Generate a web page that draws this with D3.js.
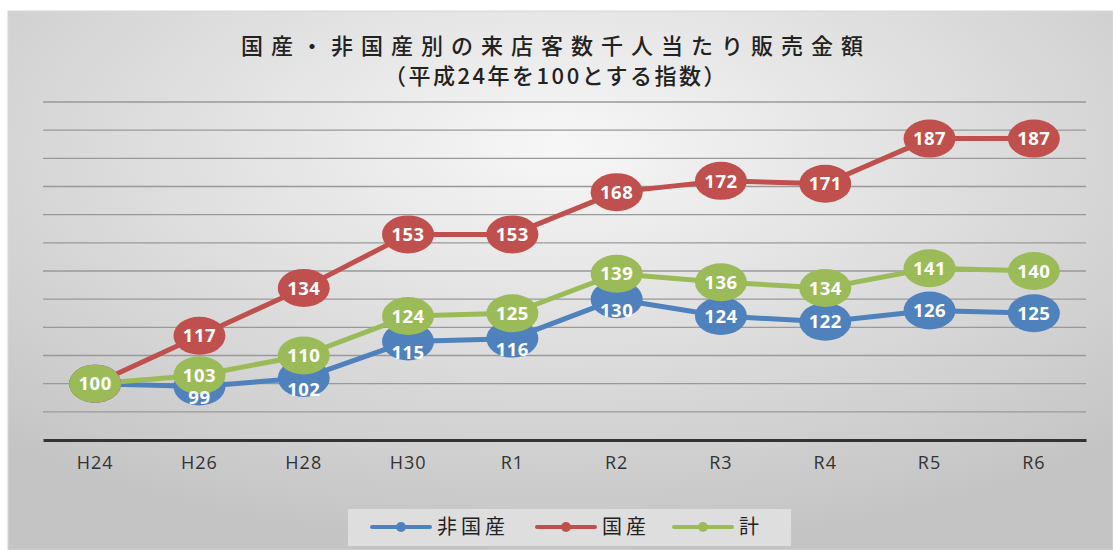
<!DOCTYPE html>
<html><head><meta charset="utf-8">
<script src="https://cdn.jsdelivr.net/npm/d3@7"></script>
<style>html,body{margin:0;padding:0;background:#fff;}svg{display:block;}</style>
</head><body>
<svg id="chart" width="1113" height="550"></svg>
<script>
const categories = ["H24","H26","H28","H30","R1","R2","R3","R4","R5","R6"];
const seriesNames = ["非国産","国産","計"];
const hikokusan = [100,99,102,115,116,130,124,122,126,125];
const kokusan = [100,117,134,153,153,168,172,171,187,187];
const kei = [100,103,110,124,125,139,136,134,141,140];
const yTicks = [80,90,100,110,120,130,140,150,160,170,180,190,200];
const titleLines = ["国産・非国産別の来店客数千人当たり販売金額","（平成24年を100とする指数）"];
const colors = ["#4F81BD","#C0504D","#9BBB59"];

const svg = d3.select("#chart");
const defs = svg.append("defs");
const grad = defs.append("radialGradient").attr("id","bg")
  .attr("cx","50%").attr("cy","25%").attr("r","75%").attr("fx","50%").attr("fy","25%");
grad.append("stop").attr("offset","0%").attr("stop-color","#f7f7f7");
grad.append("stop").attr("offset","100%").attr("stop-color","#c4c4c4");

svg.append("rect").attr("x",8).attr("y",11).attr("width",1105).attr("height",539)
  .attr("fill","url(#bg)").attr("stroke","#d8d8d8").attr("stroke-width",1);

const x = d3.scaleBand().domain(categories).range([43,1086]);
const y = d3.scaleLinear().domain([80,200]).range([440,102]);

// gridlines
svg.append("g").selectAll("line").data(yTicks.slice(1)).join("line")
  .attr("x1",43).attr("x2",1086).attr("y1",d=>y(d)).attr("y2",d=>y(d))
  .attr("stroke","#999").attr("stroke-width",1.4);

// axis
const xAxis = svg.append("g").attr("transform",`translate(0,${y(80)})`)
  .call(d3.axisBottom(x).tickSize(0).tickPadding(16));
xAxis.select(".domain").attr("stroke","#333").attr("stroke-width",3);
xAxis.selectAll("text").attr("font-family","'Open Sans', 'Liberation Sans', sans-serif")
  .attr("font-size","18px").attr("letter-spacing","1px").attr("fill","#333");

// title
svg.append("g").selectAll("text").data(titleLines).join("text")
  .attr("x",556).attr("y",(d,i)=>54+i*30).attr("text-anchor","middle")
  .attr("font-family","'Noto Sans CJK JP', sans-serif").attr("font-size","22px")
  .attr("letter-spacing",(d,i)=> i===0 ? "8px" : "2.5px")
  .attr("font-weight","500").attr("fill","#222").text(d=>d);

const allSeries = [hikokusan,kokusan,kei];
const line = d3.line().x((d,i)=>x(categories[i])+x.bandwidth()/2).y(d=>y(d));

const gLines = svg.append("g");
allSeries.forEach((s,k)=>{
  gLines.append("path").datum(s).attr("d",line).attr("fill","none")
    .attr("stroke",colors[k]).attr("stroke-width",5).attr("stroke-linejoin","round");
});
const gMarks = svg.append("g");
allSeries.forEach((s,k)=>{
  gMarks.selectAll(null).data(s).join("ellipse")
    .attr("cx",(d,i)=>x(categories[i])+x.bandwidth()/2).attr("cy",d=>y(d))
    .attr("rx",26).attr("ry",19).attr("fill",colors[k]);
});
const gLabels = svg.append("g");
allSeries.forEach((s,k)=>{
  gLabels.selectAll(null).data(s).join("text")
    .attr("x",(d,i)=>x(categories[i])+x.bandwidth()/2)
    .attr("y",(d,i)=>{
      let dy = 0;
      // blue labels shifted down where the green marker sits close above
      if (k===0 && i>0 && Math.abs(y(kei[i])-y(d))<30) dy = 11;
      return y(d)+dy;
    })
    .attr("dy","0.36em").attr("text-anchor","middle")
    .attr("font-family","'Open Sans', 'Liberation Sans', sans-serif")
    .attr("font-weight","bold").attr("font-size","18.5px").attr("letter-spacing","0.5px").attr("fill","#fff")
    .text((d,i)=> (k===0 && i===0) || (k===1 && i===0) ? "" : d);
});

// legend
const lg = svg.append("g");
lg.append("rect").attr("x",348).attr("y",509).attr("width",443).attr("height",37).attr("fill","#dedede");
const legendX = [372,537,674];
seriesNames.forEach((n,k)=>{
  const lx = legendX[k];
  lg.append("line").attr("x1",lx).attr("x2",lx+58).attr("y1",527).attr("y2",527)
    .attr("stroke",colors[k]).attr("stroke-width",4).attr("stroke-linecap","round");
  lg.append("circle").attr("cx",lx+29).attr("cy",527).attr("r",5).attr("fill",colors[k]);
  lg.append("text").attr("x",lx+65).attr("y",527).attr("dy","0.36em")
    .attr("font-family","'Noto Sans CJK JP', sans-serif").attr("font-size","20px")
    .attr("letter-spacing","4px").attr("fill","#222").text(n);
});
</script>
</body></html>
